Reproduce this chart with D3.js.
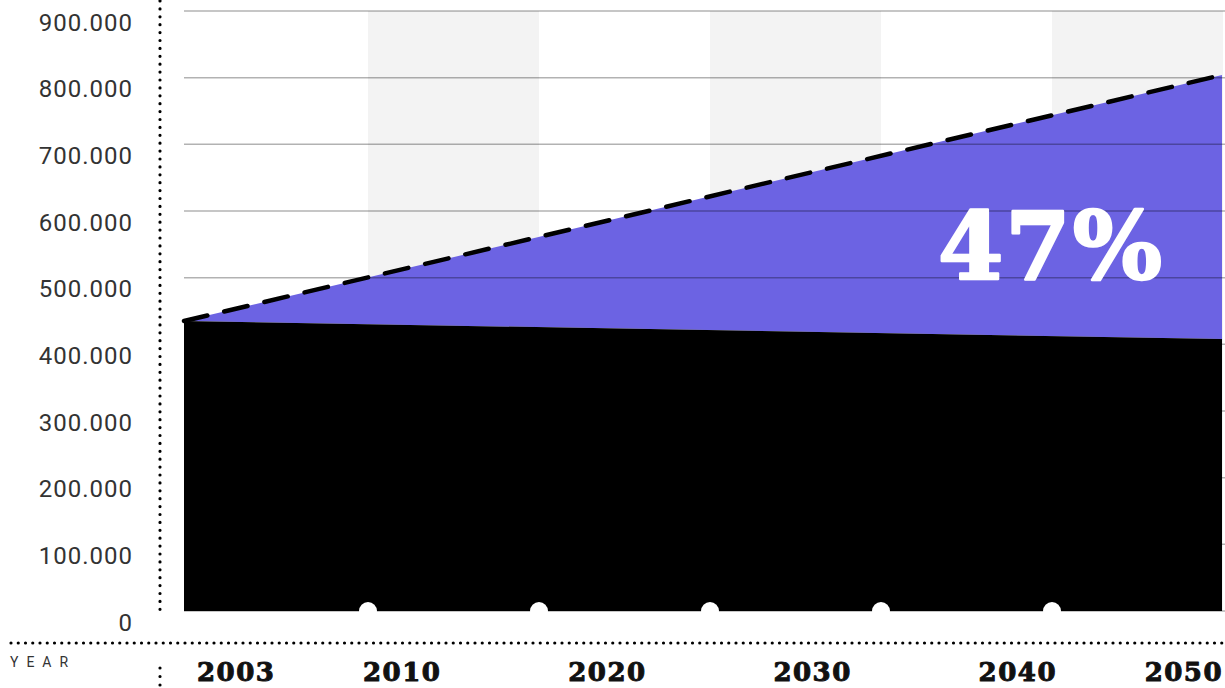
<!DOCTYPE html>
<html>
<head>
<meta charset="utf-8">
<script src="https://cdn.jsdelivr.net/npm/d3@7"></script>
<style>
  body { margin: 0; background: #fff; }
  svg { display: block; }
</style>
</head>
<body>
<svg id="chart" width="1225" height="688"></svg>
<script>
// Projected values, start and end year
const years = [2003, 2050];
const supply = [435000, 408000];   // black area
const demand = [435000, 804000];   // dashed upper edge of the purple gap
const yTicks = [0, 100000, 200000, 300000, 400000, 500000, 600000, 700000, 800000, 900000];
const xLabels = ["2003", "2010", "2020", "2030", "2040", "2050"];
const gapLabel = "47%";
const axisTitle = "YEAR";

const rows = years.map((yr, i) => ({ year: yr, supply: supply[i], demand: demand[i] }));

const svg = d3.select("#chart");
const W = 1225, H = 688;

const x = d3.scaleLinear().domain([2003, 2050]).range([184, 1222]);
const y = d3.scaleLinear().domain([0, 900000]).range([611, 11]);
const bands = d3.scaleBand().domain(xLabels).range([197, 1223]);
const points = d3.scalePoint().domain(xLabels).range([197, 1223]);

const fmt = d3.formatLocale({ decimal: ",", thousands: ".", grouping: [3], currency: ["", ""] }).format(",d");

svg.append("clipPath").attr("id", "plot")
  .append("rect").attr("x", 184).attr("y", 0).attr("width", 1223 - 184).attr("height", y(0));

// alternating background stripes
svg.append("g").attr("clip-path", "url(#plot)")
  .selectAll("rect").data(xLabels.filter((d, i) => i % 2 === 1)).join("rect")
  .attr("x", d => bands(d))
  .attr("width", bands.bandwidth())
  .attr("y", y(900000))
  .attr("height", y(0) - y(900000))
  .attr("fill", "#f3f3f3");

// purple gap between supply and demand
svg.append("path")
  .datum(rows)
  .attr("d", d3.area().x(d => x(d.year)).y0(d => y(d.supply)).y1(d => y(d.demand)))
  .attr("fill", "#6c63e3");

// black supply area
svg.append("path")
  .datum(rows)
  .attr("d", d3.area().x(d => x(d.year)).y0(y(0)).y1(d => y(d.supply)))
  .attr("fill", "#000");

// horizontal gridlines
svg.append("g").selectAll("line").data(yTicks).join("line")
  .attr("x1", 184).attr("x2", W)
  .attr("y1", d => y(d)).attr("y2", d => y(d))
  .attr("stroke", "#000").attr("stroke-opacity", 0.3).attr("stroke-width", 1.5);

// dashed demand line
svg.append("path")
  .datum(rows)
  .attr("d", d3.line().x(d => x(d.year)).y(d => y(d.demand)))
  .attr("fill", "none")
  .attr("stroke", "#000")
  .attr("stroke-width", 4.5)
  .attr("stroke-linecap", "round")
  .attr("stroke-dasharray", "24,17.3");

// white markers on the baseline at band boundaries
svg.append("g").selectAll("circle").data(xLabels.slice(1)).join("circle")
  .attr("cx", d => bands(d))
  .attr("cy", y(0))
  .attr("r", 9)
  .attr("fill", "#fff");

// percentage label
svg.append("text")
  .attr("x", 1051).attr("y", 279)
  .attr("text-anchor", "middle")
  .attr("font-family", "DejaVu Serif")
  .attr("font-weight", "bold")
  .attr("font-size", 94)
  .attr("letter-spacing", 2)
  .attr("fill", "#fff")
  .attr("stroke", "#fff")
  .attr("stroke-width", 2.5)
  .attr("stroke-linejoin", "round")
  .text(gapLabel);

// y axis labels
svg.append("g").selectAll("text").data(yTicks).join("text")
  .attr("x", 133)
  .attr("y", d => y(d) + 19.5)
  .attr("text-anchor", "end")
  .attr("font-family", "Roboto")
  .attr("font-size", 24)
  .attr("letter-spacing", 1)
  .attr("fill", "#333")
  .text(d => d === 0 ? "0" : fmt(d));

// dotted axis lines
const dotted = (x1, y1, x2, y2, gap) => svg.append("line")
  .attr("x1", x1).attr("y1", y1).attr("x2", x2).attr("y2", y2)
  .attr("stroke", "#000").attr("stroke-width", 3.2)
  .attr("stroke-linecap", "round")
  .attr("stroke-dasharray", `0,${gap}`);

dotted(160, 1, 160, 616, 7.9);
dotted(11, 643, 1222, 643, 7.25);
dotted(160, 668, 160, 688, 8.5);

// x axis title
svg.append("text")
  .attr("x", 10).attr("y", 667)
  .attr("font-family", "Roboto")
  .attr("font-size", 14)
  .attr("letter-spacing", 8)
  .attr("fill", "#333")
  .text(axisTitle);

// x axis labels
svg.append("g").selectAll("text").data(xLabels).join("text")
  .attr("x", d => points(d))
  .attr("y", 681)
  .attr("text-anchor", (d, i) => i === 0 ? "start" : (i === xLabels.length - 1 ? "end" : "middle"))
  .attr("font-family", "DejaVu Serif")
  .attr("font-weight", "bold")
  .attr("font-size", 26)
  .attr("letter-spacing", 1.5)
  .attr("fill", "#111")
  .attr("stroke", "#111")
  .attr("stroke-width", 1)
  .attr("stroke-linejoin", "round")
  .text(d => d);
</script>
</body>
</html>
